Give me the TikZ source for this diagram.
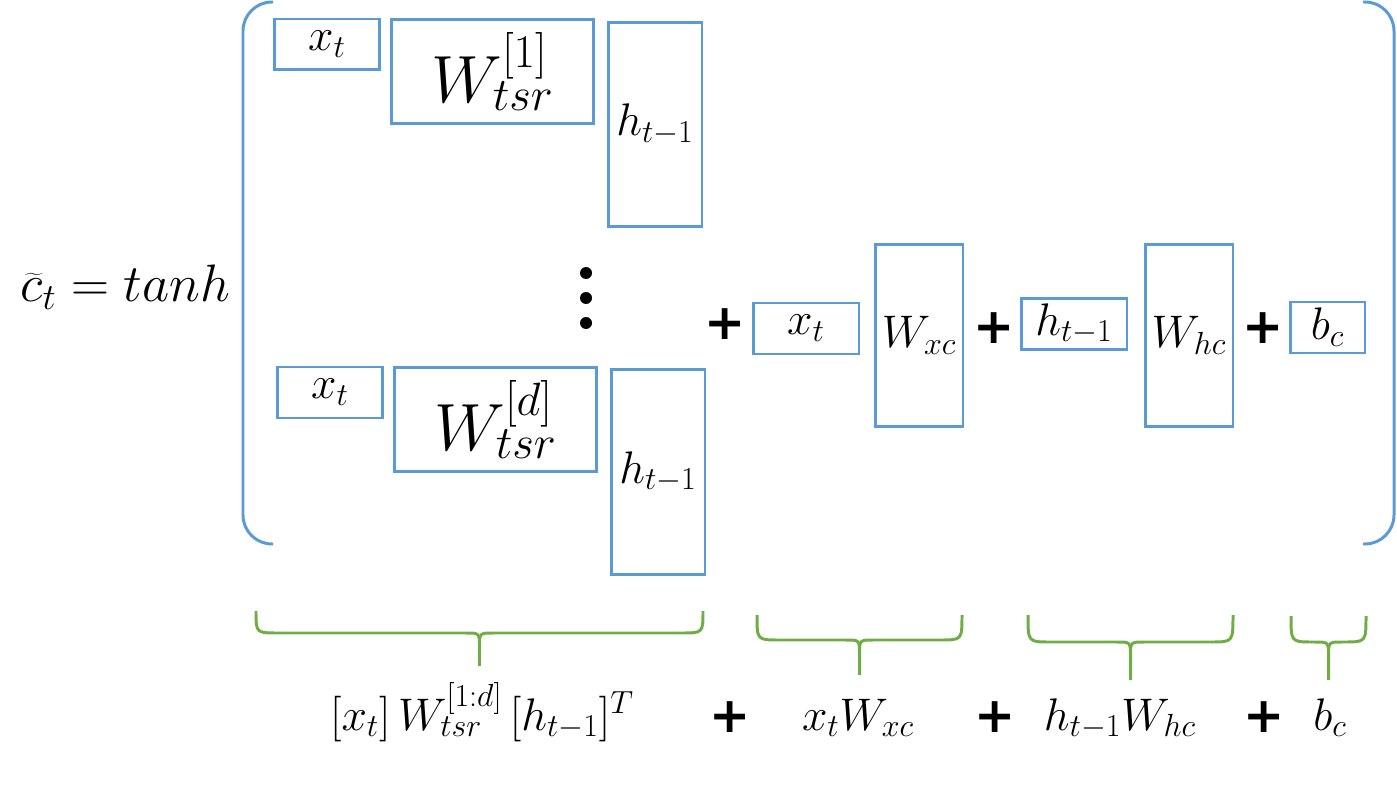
\RequirePackage{fix-cm}
\documentclass[tikz,border=0pt]{standalone}
\usepackage{fontspec}
\newfontfamily\plusfont{DejaVu Sans}
\definecolor{boxblue}{RGB}{91,155,213}
\definecolor{bracegreen}{RGB}{112,173,71}
\begin{document}
\begin{tikzpicture}[x=0.02cm,y=-0.02cm,
    vecbox/.style={draw=boxblue,line width=1.7pt,inner sep=0pt,outer sep=0pt,
      font=\fontsize{26}{30}\selectfont},
    smallsize/.style={minimum width=2.12cm,minimum height=1.02cm},
    wsize/.style={minimum width=4.06cm,minimum height=2.1cm,font=\fontsize{38}{44}\selectfont},
    tallsize/.style={minimum width=1.88cm,minimum height=4.1cm},
    wcsize/.style={minimum width=1.76cm,minimum height=3.66cm},
    biassize/.style={minimum width=1.5cm,minimum height=1.02cm},
    plussign/.style={inner sep=0pt,font=\plusfont\bfseries\fontsize{28}{28}\selectfont},
    sumtext/.style={inner sep=0pt,anchor=base,font=\fontsize{26}{30}\selectfont},
    bracket/.style={draw=boxblue,line width=1.7pt,rounded corners=0.58cm},
    brace/.style={draw=bracegreen,line width=1.7pt}]
    \useasboundingbox (0,0) rectangle (1397,804);
    % left hand side
    \node[inner sep=0pt,anchor=base west,font=\fontsize{30}{34}\selectfont] (ct) at (20,302) {$\widetilde{c}_t = tanh$};
    \draw[bracket] (273,2) -- (243,2) -- (243,544) -- (273,544);
    \draw[bracket] (1363,2) -- (1394,2) -- (1394,544) -- (1363,544);
    % tensor slices
    \node[vecbox,smallsize] (xa) at (327,44.5) {$x_t$};
    \node[vecbox,wsize] (Wa) at (492.5,71.5) {$W^{[1]}_{tsr}$};
    \node[vecbox,tallsize] (ha) at (655,124.5) {$h_{t-1}$};
    \foreach \y in {273,298,323}
      \fill (586,\y) circle (0.12cm);
    \node[vecbox,smallsize] (xb) at (330,392.5) {$x_t$};
    \node[vecbox,wsize] (Wb) at (495.5,419.5) {$W^{[d]}_{tsr}$};
    \node[vecbox,tallsize] (hb) at (658,472) {$h_{t-1}$};
    % linear terms
    \node[plussign] (pa) at (725,324) {+};
    \node[vecbox,smallsize] (xc) at (806,328.5) {$x_t$};
    \node[vecbox,wcsize] (Wx) at (919,335.5) {$W_{xc}$};
    \node[plussign] (pb) at (994,328) {+};
    \node[vecbox,smallsize] (hc) at (1074,324) {$h_{t-1}$};
    \node[vecbox,wcsize] (Wh) at (1189,335.5) {$W_{hc}$};
    \node[plussign] (pc) at (1263,328) {+};
    \node[vecbox,biassize] (bc) at (1327.5,327.5) {$b_c$};
    % braces
    \foreach \xl/\xr/\yt/\yh/\yb in {256/703/611/633/666,757/962/615/640/675,1028/1233/615/642/680,1291/1366/616/642/680}
    {
      \draw[brace] (\xl,\yt) .. controls (\xl,\yh) .. (\xl+22,\yh) -- ({(\xl+\xr)/2-14},\yh)
        .. controls ({(\xl+\xr)/2},\yh) .. ({(\xl+\xr)/2},\yh+14) -- ({(\xl+\xr)/2},\yb);
      \draw[brace] (\xr,\yt) .. controls (\xr,\yh) .. (\xr-22,\yh) -- ({(\xl+\xr)/2+14},\yh)
        .. controls ({(\xl+\xr)/2},\yh) .. ({(\xl+\xr)/2},\yh+14);
    }
    % expanded sum
    \node[sumtext] (sa) at (482,730) {$[x_t]\,W^{[1{:}d]}_{tsr}\,[h_{t-1}]^T$};
    \node[plussign] (pd) at (730,717) {+};
    \node[sumtext] (sb) at (858,730) {$x_tW_{xc}$};
    \node[plussign] (pe) at (995,717) {+};
    \node[sumtext] (sc) at (1120,730) {$h_{t-1}W_{hc}$};
    \node[plussign] (pf) at (1264,717) {+};
    \node[sumtext] (sd) at (1330,730) {$b_c$};
\end{tikzpicture}
\end{document}
